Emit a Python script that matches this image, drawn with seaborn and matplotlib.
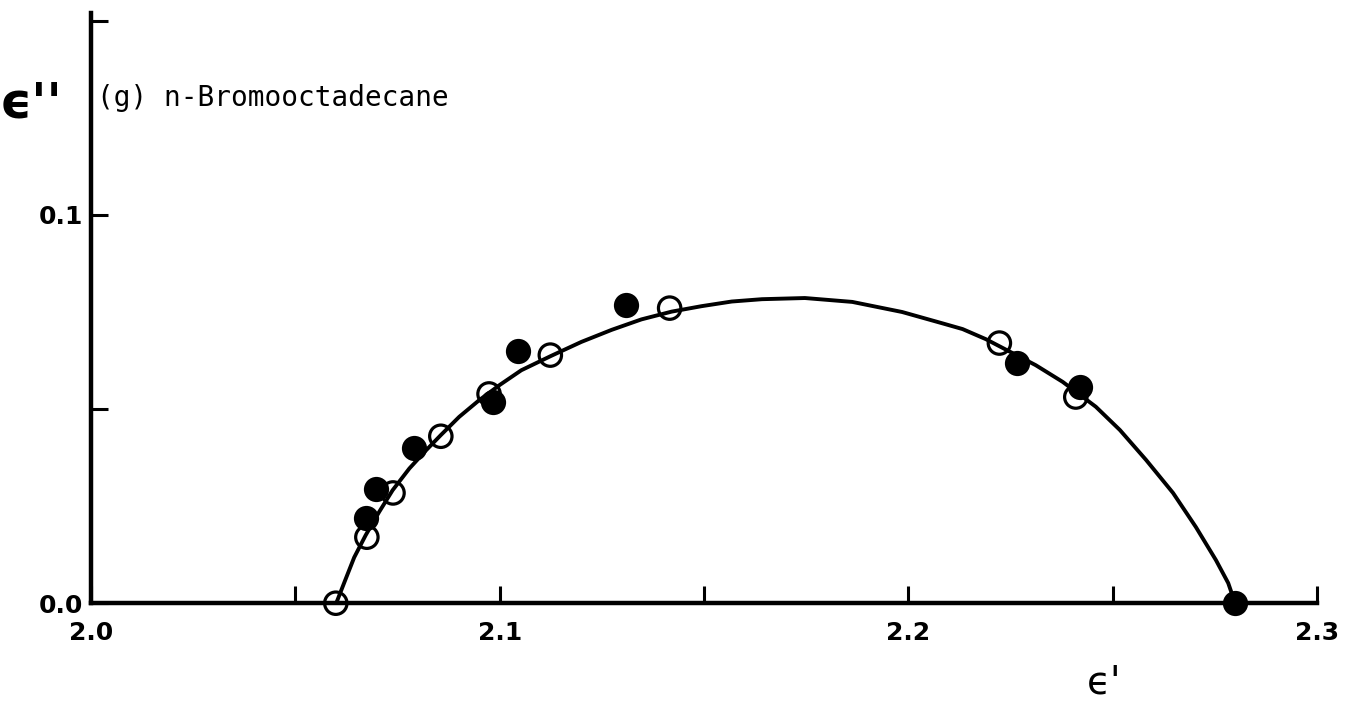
import matplotlib
matplotlib.use("Agg")
import matplotlib.pyplot as plt
import seaborn as sns
import pandas as pd

# ---- data ----
open_x = [2.0599, 2.0675, 2.0739, 2.0856, 2.0974, 2.1124, 2.1416, 2.2223, 2.2410]
open_y = [0.0, 0.0170, 0.0284, 0.0430, 0.0539, 0.0639, 0.0760, 0.0670, 0.0531]

filled_x = [2.0672, 2.0697, 2.0790, 2.0984, 2.1045, 2.1308, 2.2265, 2.2420, 2.2800]
filled_y = [0.0219, 0.0294, 0.0399, 0.0518, 0.0649, 0.0768, 0.0619, 0.0557, 0.0]

curve_x = [2.0600, 2.0623, 2.0644, 2.0672, 2.0705, 2.0738, 2.0779, 2.0820, 2.0856,
           2.0901, 2.0950, 2.1000, 2.1053, 2.1126, 2.1200, 2.1274, 2.1347, 2.1421,
           2.1494, 2.1568, 2.1642, 2.1747, 2.1863, 2.1985, 2.2083, 2.2133, 2.2190,
           2.2312, 2.2378, 2.2459, 2.2518, 2.2582, 2.2648, 2.2704, 2.2753, 2.2783,
           2.2800]
curve_y = [0.0, 0.0062, 0.0118, 0.0175, 0.0235, 0.0291, 0.0347, 0.0394, 0.0433,
           0.0480, 0.0523, 0.0562, 0.0600, 0.0637, 0.0673, 0.0704, 0.0731, 0.0751,
           0.0765, 0.0777, 0.0783, 0.0786, 0.0776, 0.0750, 0.0721, 0.0706, 0.0680,
           0.0613, 0.0570, 0.0506, 0.0446, 0.0369, 0.0284, 0.0196, 0.0111, 0.0052,
           0.0]

x_ticks = [2.0, 2.05, 2.1, 2.15, 2.2, 2.25, 2.3]
x_tick_labels = ["2.0", "", "2.1", "", "2.2", "", "2.3"]
y_ticks = [0.0, 0.05, 0.1, 0.15]
y_tick_labels = ["0.0", "", "0.1", ""]

title_text = "(g) n-Bromooctadecane"
y_label = "ϵ''"
x_label = "ϵ'"

# ---- plotting ----
sns.set_style("ticks")
plt.rcParams['font.family'] = ['DejaVu Sans']
plt.rcParams['text.color'] = 'black'
plt.rcParams['xtick.color'] = 'black'
plt.rcParams['ytick.color'] = 'black'
plt.rcParams['xtick.labelcolor'] = 'black'
plt.rcParams['ytick.labelcolor'] = 'black'

fig = plt.figure(figsize=(13.59, 7.08), dpi=100)
ax = fig.add_axes([0.067, 0.148, 0.902, 0.8336])

curve_df = pd.DataFrame({"x": curve_x, "y": curve_y})
open_df = pd.DataFrame({"x": open_x, "y": open_y})
filled_df = pd.DataFrame({"x": filled_x, "y": filled_y})

sns.lineplot(data=curve_df, x="x", y="y", sort=False, color="black",
             linewidth=2.8, ax=ax, zorder=2)
ax.lines[-1].set_solid_joinstyle("round")
ax.lines[-1].set_solid_capstyle("round")
sns.scatterplot(data=open_df, x="x", y="y", marker="o", s=260,
                facecolors="none", edgecolor="black", linewidth=2.3,
                ax=ax, zorder=3, clip_on=False)
sns.scatterplot(data=filled_df, x="x", y="y", marker="o", s=330,
                color="black", edgecolor="black", linewidth=0,
                ax=ax, zorder=4, clip_on=False)

ax.set_xlim(2.0, 2.3)
ax.set_ylim(0.0, 0.152)

ax.set_xticks(x_ticks)
ax.set_xticklabels(x_tick_labels, fontsize=18, fontweight="bold", color="black")
ax.set_yticks(y_ticks)
ax.set_yticklabels(y_tick_labels, fontsize=18, fontweight="bold", color="black")
ax.tick_params(axis="both", direction="in", length=12, width=2.2, color="black")
ax.tick_params(axis="x", pad=13)
ax.tick_params(axis="y", pad=6)

for side in ["top", "right"]:
    ax.spines[side].set_visible(False)
for side in ["left", "bottom"]:
    ax.spines[side].set_linewidth(3.2)
    ax.spines[side].set_color("black")

ax.set_xlabel("")
ax.set_ylabel("")

ax.text(2.0015, 0.130, title_text, fontsize=20, family="DejaVu Sans Mono",
        ha="left", va="center", color="black")

fig.text(31 / 1359, 1 - 103 / 708, y_label, fontsize=36, fontweight="bold",
         ha="center", va="center", color="black")
fig.text(1104 / 1359, 1 - 682 / 708, x_label, fontsize=28,
         ha="center", va="center", color="black")

fig.savefig("out.png", dpi=100, facecolor="white")
